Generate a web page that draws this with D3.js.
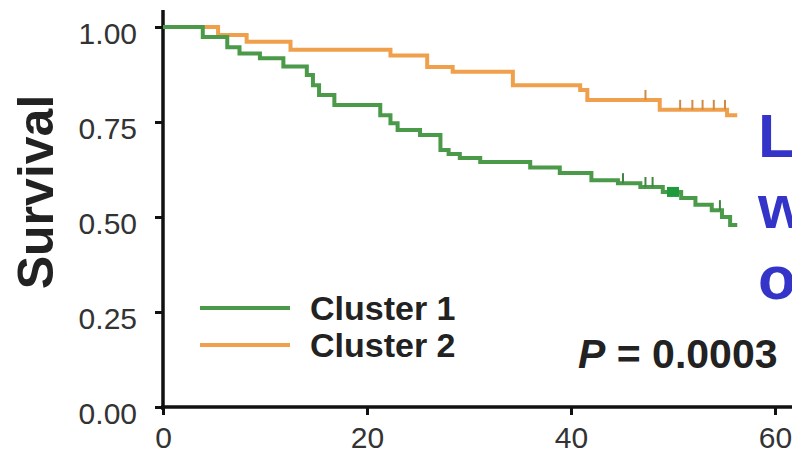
<!DOCTYPE html>
<html lang="en">
<head>
    <meta charset="UTF-8">
    <title>Survival by cluster</title>
    <style>
        body { margin: 0; background: #fff; }
        svg { display: block; font-family: "Liberation Sans", Arial, sans-serif; }
        .tick text { fill: #333; font-size: 30px; }
    </style>
</head>
<body>
    <div id="chart"></div>
    <script src="https://d3js.org/d3.v7.min.js"></script>
    <script>
        // Kaplan-Meier steps (time, survival)
        const c1Times = [0, 3.9, 6.3, 7.5, 9.5, 11.8, 14.1, 14.7, 15.3, 16.8, 21.3, 22.3, 23.0, 25.2, 27.2, 28.0, 29.1, 31.1, 36.0, 38.9, 42.0, 44.6, 46.8, 49.0, 50.8, 52.2, 53.8, 54.8, 55.6, 56.3];
        const c1Surv  = [1.00, 0.974, 0.947, 0.930, 0.918, 0.896, 0.874, 0.847, 0.821, 0.795, 0.768, 0.747, 0.729, 0.716, 0.676, 0.666, 0.655, 0.645, 0.630, 0.616, 0.597, 0.589, 0.579, 0.566, 0.550, 0.532, 0.518, 0.500, 0.479, 0.479];
        const c1Censor = [45.1, 47.3, 48.0, 54.6];
        const c1Square = [50.0];

        const c2Times = [0, 5.4, 8.2, 12.5, 22.3, 25.9, 28.4, 34.3, 40.9, 41.6, 48.7, 55.3, 56.3];
        const c2Surv  = [1.00, 0.979, 0.961, 0.940, 0.925, 0.895, 0.882, 0.847, 0.834, 0.808, 0.782, 0.768, 0.768];
        const c2Censor = [47.3, 50.7, 51.9, 52.9, 54.0, 55.1];

        const yTicks = [0, 0.25, 0.5, 0.75, 1.0];
        const xTicks = [0, 20, 40, 60];
        const legendLabels = ["Cluster 1", "Cluster 2"];
        const sideText = ["L", "w", "o"];

        const width = 792, height = 456;
        const green = "#4a9a4a", orange = "#f0a04c";

        const svg = d3.select("#chart").append("svg")
            .attr("width", width)
            .attr("height", height);

        const x = d3.scaleLinear().domain([0, 60]).range([163, 775]);
        const y = d3.scaleLinear().domain([0, 1]).range([407, 27]);

        // survival at a given time (step function) for censor marks
        function survAt(times, surv, t) {
            let s = surv[0];
            for (let i = 0; i < times.length; i++) if (times[i] <= t) s = surv[i];
            return s;
        }

        const line = d3.line()
            .x(d => x(d[0]))
            .y(d => y(d[1]))
            .curve(d3.curveStepAfter);

        const series = [
            { times: c1Times, surv: c1Surv, censor: c1Censor, color: green },
            { times: c2Times, surv: c2Surv, censor: c2Censor, color: orange }
        ];

        // axes
        const yAxis = svg.append("g")
            .attr("transform", `translate(${x(0)},0)`)
            .call(d3.axisLeft(y).tickValues(yTicks).tickFormat(d3.format(".2f")).tickSize(8).tickSizeOuter(0));
        yAxis.select(".domain").remove();
        yAxis.selectAll(".tick line").attr("stroke", "#111").attr("stroke-width", 3);
        yAxis.selectAll(".tick text").attr("x", -26).attr("dy", "0.55em");

        const xAxis = svg.append("g")
            .attr("transform", `translate(0,${y(0)})`)
            .call(d3.axisBottom(x).tickValues(xTicks).tickSize(8).tickSizeOuter(0));
        xAxis.select(".domain").remove();
        xAxis.selectAll(".tick line").attr("stroke", "#111").attr("stroke-width", 3);
        xAxis.selectAll(".tick text").attr("y", 20).attr("dy", "0.71em");

        svg.append("line")
            .attr("x1", x(0)).attr("x2", x(0))
            .attr("y1", y(0) + 3).attr("y2", y(1.045))
            .attr("stroke", "#111").attr("stroke-width", 3.5);
        svg.append("line")
            .attr("x1", x(0) - 2).attr("x2", width)
            .attr("y1", y(0)).attr("y2", y(0))
            .attr("stroke", "#111").attr("stroke-width", 3.5);

        // curves (orange first so green overlaps at the start)
        series.slice().reverse().forEach(s => {
            svg.append("path")
                .datum(s.times.map((t, i) => [t, s.surv[i]]))
                .attr("fill", "none")
                .attr("stroke", s.color)
                .attr("stroke-width", 4)
                .attr("d", line);

            svg.selectAll(null)
                .data(s.censor)
                .enter().append("line")
                .attr("x1", d => x(d)).attr("x2", d => x(d))
                .attr("y1", d => y(survAt(s.times, s.surv, d)) - 10)
                .attr("y2", d => y(survAt(s.times, s.surv, d)))
                .attr("stroke", d3.color(s.color).darker(0.4))
                .attr("stroke-width", 2);
        });

        svg.selectAll(null)
            .data(c1Square)
            .enter().append("rect")
            .attr("x", d => x(d) - 6)
            .attr("y", d => y(survAt(c1Times, c1Surv, d)) - 5)
            .attr("width", 12).attr("height", 10)
            .attr("fill", "#1f9a3c");

        // legend
        const legend = svg.append("g");
        legendLabels.forEach((label, i) => {
            const ly = 308 + i * 37;
            legend.append("line")
                .attr("x1", 200).attr("x2", 290)
                .attr("y1", ly).attr("y2", ly)
                .attr("stroke", series[i].color)
                .attr("stroke-width", 4);
            legend.append("text")
                .attr("x", 310).attr("y", ly + 12)
                .attr("font-size", 34).attr("font-weight", "bold")
                .attr("fill", "#222")
                .text(label);
        });

        // y label
        svg.append("text")
            .attr("transform", "translate(53,192) rotate(-90)")
            .attr("text-anchor", "middle")
            .attr("font-size", 50).attr("font-weight", "bold")
            .attr("fill", "#222")
            .text("Survival");

        // p value
        const p = svg.append("text")
            .attr("x", 578).attr("y", 368)
            .attr("font-size", 41).attr("font-weight", "bold")
            .attr("fill", "#222");
        p.append("tspan").attr("font-style", "italic").text("P");
        p.append("tspan").text(" = 0.0003");

        // blue text, cut off by the right edge as in the source
        svg.selectAll(".side")
            .data(sideText)
            .enter().append("text")
            .attr("class", "side")
            .attr("x", 758)
            .attr("y", (d, i) => 157 + i * 71)
            .attr("font-size", 62).attr("font-weight", "bold")
            .attr("fill", "#3434c8")
            .text(d => d);
    </script>
</body>
</html>
